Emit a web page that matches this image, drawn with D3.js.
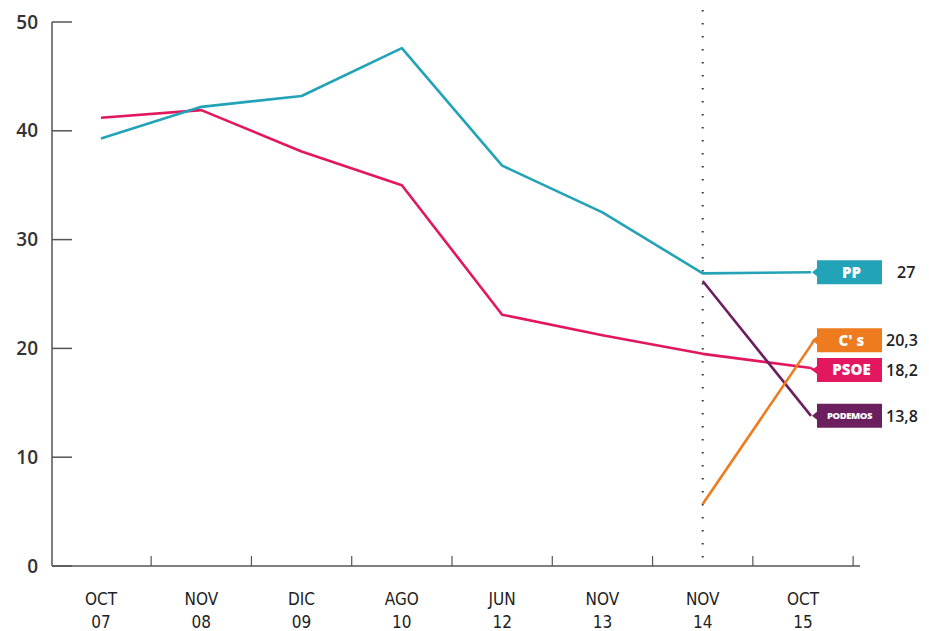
<!DOCTYPE html>
<html>
<head>
<meta charset="utf-8">
<script src="https://cdn.jsdelivr.net/npm/d3@7/dist/d3.min.js"></script>
<style>
  body { margin: 0; background: #fff; }
  svg { display: block; }
  .ylab { font-family: "Open Sans", sans-serif; font-weight: 600; font-size: 19px; fill: #333; }
  .xlab { font-family: "Liberation Sans Narrow", "DejaVu Sans Condensed", sans-serif; font-stretch: condensed; font-size: 17px; fill: #222; }
  .val { font-family: "Open Sans", sans-serif; font-weight: 600; font-size: 16px; fill: #222; }
  .tag { font-family: "Open Sans", sans-serif; font-weight: 800; fill: #fff; }
</style>
</head>
<body>
<div id="chart"></div>
<script>
var months = ["OCT", "NOV", "DIC", "AGO", "JUN", "NOV", "NOV", "OCT"];
var years = ["07", "08", "09", "10", "12", "13", "14", "15"];
var yTicks = [0, 10, 20, 30, 40, 50];

var ppValues = [39.3, 42.2, 43.2, 47.6, 36.8, 32.5, 26.9, 27];
var psoeValues = [41.2, 41.9, 38.1, 35.0, 23.1, 21.2, 19.5, 18.2];
var podemosValues = [null, null, null, null, null, null, 26.2, 13.8];
var csValues = [null, null, null, null, null, null, 5.7, 20.3];

var seriesNames = ["PP", "C' s", "PSOE", "PODEMOS"];
var seriesColors = ["#23a3b8", "#ee7b1e", "#e3175f", "#6c1f5f"];
var seriesLabels = ["27", "20,3", "18,2", "13,8"];
var seriesData = [ppValues, csValues, psoeValues, podemosValues];

// small vertical nudges so the tags do not overlap (in px)
var tagNudge = [0, -5, 2, 0];
var valNudgeX = [11, 0, 0, 0];

var width = 929, height = 631;

var svg = d3.select("#chart").append("svg")
  .attr("width", width).attr("height", height);

var x = d3.scalePoint().domain(d3.range(months.length)).range([101, 803]);
var y = d3.scaleLinear().domain([0, 50]).range([566, 22]);
var axisLeftX = 52, axisRightX = 860;
var step = x.step();
var tagX = 817, tagW = 65, tagH = 24;
var lastIdx = months.length - 1;

// y axis
svg.append("line")
  .attr("x1", axisLeftX).attr("x2", axisLeftX)
  .attr("y1", y(50)).attr("y2", y(0))
  .attr("stroke", "#555").attr("stroke-width", 1.5);
svg.selectAll(".ytick").data(yTicks).enter().append("line")
  .attr("x1", axisLeftX).attr("x2", axisLeftX + 20)
  .attr("y1", function(d){ return y(d); }).attr("y2", function(d){ return y(d); })
  .attr("stroke", "#555").attr("stroke-width", 1.5);
svg.selectAll(".ylab").data(yTicks).enter().append("text")
  .attr("class", "ylab")
  .attr("x", 38).attr("y", function(d){ return y(d); })
  .attr("dy", "0.35em").attr("text-anchor", "end")
  .text(function(d){ return d; });

// x axis
svg.append("line")
  .attr("x1", axisLeftX).attr("x2", axisRightX)
  .attr("y1", y(0)).attr("y2", y(0))
  .attr("stroke", "#555").attr("stroke-width", 1.5);
svg.selectAll(".xtick").data(d3.range(months.length)).enter().append("line")
  .attr("x1", function(d){ return x(d) + step / 2; })
  .attr("x2", function(d){ return x(d) + step / 2; })
  .attr("y1", y(0)).attr("y2", y(0) - 10)
  .attr("stroke", "#555").attr("stroke-width", 1.2);
var xl = svg.selectAll(".xlab").data(d3.range(months.length)).enter().append("text")
  .attr("class", "xlab").attr("text-anchor", "middle");
xl.append("tspan").attr("x", function(d){ return x(d); }).attr("y", 605)
  .text(function(d){ return months[d]; });
xl.append("tspan").attr("x", function(d){ return x(d); }).attr("y", 628)
  .text(function(d){ return years[d]; });

// dotted marker at NOV 14
svg.append("line")
  .attr("x1", x(6)).attr("x2", x(6))
  .attr("y1", 10).attr("y2", y(0) - 4)
  .attr("stroke", "#333").attr("stroke-width", 2)
  .attr("stroke-dasharray", "1.5,11.5");

// lines: the last point runs on into the tag's notch
var line = d3.line()
  .defined(function(d){ return d != null; })
  .x(function(d, i){ return i === lastIdx ? tagX - 6 : x(i); })
  .y(function(d){ return y(d); });

var drawOrder = [2, 0, 3, 1];

drawOrder.forEach(function(s){
  var vals = seriesData[s];
  var last = vals[lastIdx];
  var cy = y(last) + tagNudge[s];
  svg.append("path")
    .datum(vals)
    .attr("d", line)
    .attr("fill", "none")
    .attr("stroke", seriesColors[s])
    .attr("stroke-width", 2.6)
    .attr("stroke-linejoin", "round");
  if (tagNudge[s] !== 0) {
    svg.append("line")
      .attr("x1", tagX - 6).attr("y1", y(last))
      .attr("x2", tagX - 3).attr("y2", cy)
      .attr("stroke", seriesColors[s]).attr("stroke-width", 2.6);
  }
});

// tags
seriesNames.forEach(function(name, s){
  var vals = seriesData[s];
  var cy = y(vals[lastIdx]) + tagNudge[s];
  var top = cy - tagH / 2;
  var p = d3.path();
  p.moveTo(tagX, top);
  p.lineTo(tagX + tagW, top);
  p.lineTo(tagX + tagW, top + tagH);
  p.lineTo(tagX, top + tagH);
  p.lineTo(tagX, cy + 4);
  p.lineTo(tagX - 5, cy);
  p.lineTo(tagX, cy - 4);
  p.closePath();
  svg.append("path").attr("d", p.toString()).attr("fill", seriesColors[s]);
  svg.append("text")
    .attr("class", "tag")
    .attr("x", tagX + tagW / 2 + (name === "PODEMOS" ? 0 : 2)).attr("y", cy)
    .attr("dy", "0.36em").attr("text-anchor", "middle")
    .attr("font-size", name === "PODEMOS" ? 9.5 : 15)
    .attr("letter-spacing", name === "PODEMOS" ? -0.4 : 0)
    .text(name);
  svg.append("text")
    .attr("class", "val")
    .attr("x", tagX + tagW + 4 + valNudgeX[s]).attr("y", cy)
    .attr("dy", "0.36em")
    .text(seriesLabels[s]);
});
</script>
</body>
</html>
